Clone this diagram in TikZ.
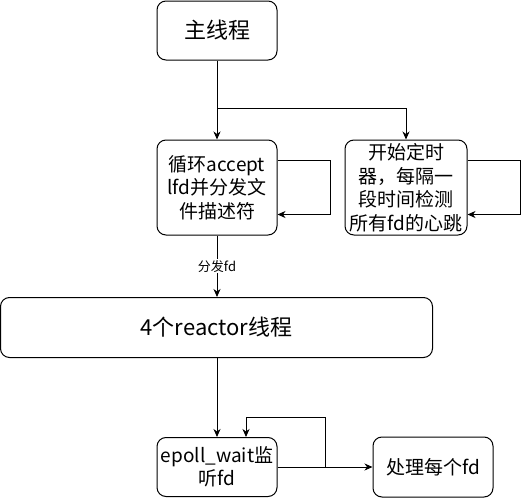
\documentclass[tikz,border=0pt]{standalone}
\usepackage{fontspec}
\setmainfont{Noto Sans CJK SC}
\usetikzlibrary{arrows.meta}

\tikzset{
  box/.style={draw, rounded corners=9pt, align=center, inner sep=0pt, line width=1pt},
  big/.style={font=\fontsize{22}{26}\selectfont},
  mid/.style={font=\fontsize{19}{23.5}\selectfont},
  link/.style={-{Stealth[length=8pt,width=7pt,inset=2.5pt]}, line width=0.9pt}
}

\begin{document}
\begin{tikzpicture}[x=1pt,y=-1pt]
\useasboundingbox (0,0) rectangle (528,498);

%% nodes
\node[box, big, minimum width=120pt, minimum height=59pt] (main) at (217,30.5) {主线程};
\node[box, mid, minimum width=120pt, minimum height=95pt] (accept) at (217,187.5) {循环accept\\lfd并分发文\\件描述符};
\node[box, mid, minimum width=122pt, minimum height=95pt] (timer) at (406,187.5) {开始定时\\器，每隔一\\段时间检测\\所有fd的心跳};
\node[box, big, minimum width=432pt, minimum height=60pt] (reactor) at (216.5,327.5) {4个reactor线程};
\node[box, mid, minimum width=120pt, minimum height=59pt] (epoll) at (217,467) {epoll\_wait监\\听fd};
\node[box, mid, minimum width=120pt, minimum height=60pt] (handle) at (433,467) {处理每个fd};

%% helper points
\coordinate (split) at (217,108);
\coordinate (turn) at (325,467);

%% edges
\draw[link] (main) -- (accept);
\draw[link] (split) -| (timer);
\draw[link] ([yshift=27pt]accept.east) -- ++(53,0) |- ([yshift=-27pt]accept.east);   %% accept loop
\draw[link] ([yshift=27pt]timer.east) -- ++(53,0) |- ([yshift=-27pt]timer.east);     %% timer loop
\draw[link] (accept) -- node[fill=white, inner sep=1pt, font=\fontsize{13}{15}\selectfont] {分发fd} (accept |- reactor.north);
\draw[link] (reactor.south -| epoll) -- (epoll);
\draw[link] (epoll) -- (handle);
\draw[link] (turn) -- (325,417) -| ([xshift=29pt]epoll.north);   %% epoll loop
\end{tikzpicture}
\end{document}
